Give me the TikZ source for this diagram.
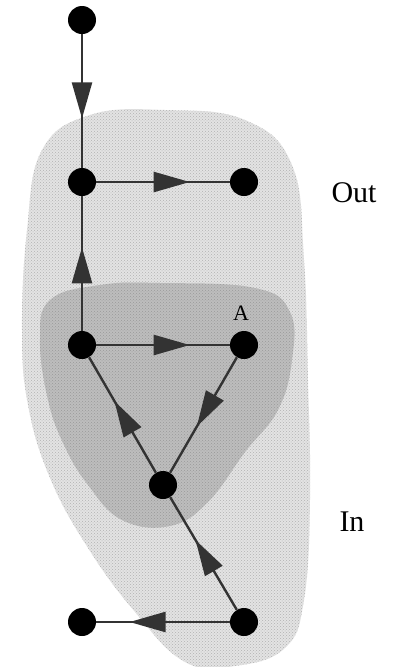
\documentclass[tikz,border=0pt]{standalone}
\usepackage{fontspec}
\setmainfont{Liberation Serif}
\usetikzlibrary{arrows.meta,decorations.markings,patterns}
\tikzset{
  dot/.style={circle,fill=black,inner sep=0pt,minimum size=28pt},
  lbl/.style={font=\fontsize{30}{33}\selectfont},
  edge/.style={draw=black!80,line width=2.4pt,
    postaction={decorate,decoration={markings,
      mark=at position #1 with {\arrow{Triangle[length=36pt,width=20pt]}}}}},
  edge/.default=0.6
}
\begin{document}
\begin{tikzpicture}[x=1pt,y=-1pt]
\useasboundingbox (0,0) rectangle (397,667);
% outer region (Out)
\def\outerblob{plot[smooth cycle,tension=0.7] coordinates {
 (165,110) (245,120) (292,165) (304,260) (308,380) (310,500) (304,600)
 (285,648) (235,666) (185,662) (135,612) (88,548) (50,478) (28,405)
 (22,330) (27,230) (42,150) (90,115)}}
\fill[black!11] \outerblob;
\fill[pattern=crosshatch dots,pattern color=black!30] \outerblob;
% inner region (In)
\def\innerblob{plot[smooth cycle,tension=0.7] coordinates {
 (160,283) (255,288) (290,312) (292,360) (278,410) (245,452) (208,502)
 (170,526) (122,520) (88,485) (64,445) (48,400) (40,340) (50,300) (100,285)}}
\fill[black!26] \innerblob;
\fill[pattern=crosshatch dots,pattern color=black!40] \innerblob;
% nodes
\node[dot] (t)  at (82,20)  {};
\node[dot] (m)  at (82,182) {};
\node[dot] (r)  at (244,182) {};
\node[dot] (l)  at (82,345) {};
\node[dot] (a)  at (244,345) {};
\node[dot] (c)  at (163,485) {};
\node[dot] (br) at (244,622) {};
\node[dot] (bl) at (82,622) {};
% edges
\path[edge=0.63] (t) -- (m);
\path[edge=0.7] (m) -- (r);
\path[edge=0.62] (l) -- (m);
\path[edge=0.7] (l) -- (a);
\path[edge=0.6] (a) -- (c);
\path[edge=0.62] (c) -- (l);
\path[edge=0.62] (br) -- (c);
\path[edge=0.75] (br) -- (bl);
% labels
\node[lbl] (out) at (354,193) {Out};
\node[lbl] (in) at (352,522) {In};
\node[font=\fontsize{22}{24}\selectfont] (la) at (241,313) {A};
\end{tikzpicture}
\end{document}
